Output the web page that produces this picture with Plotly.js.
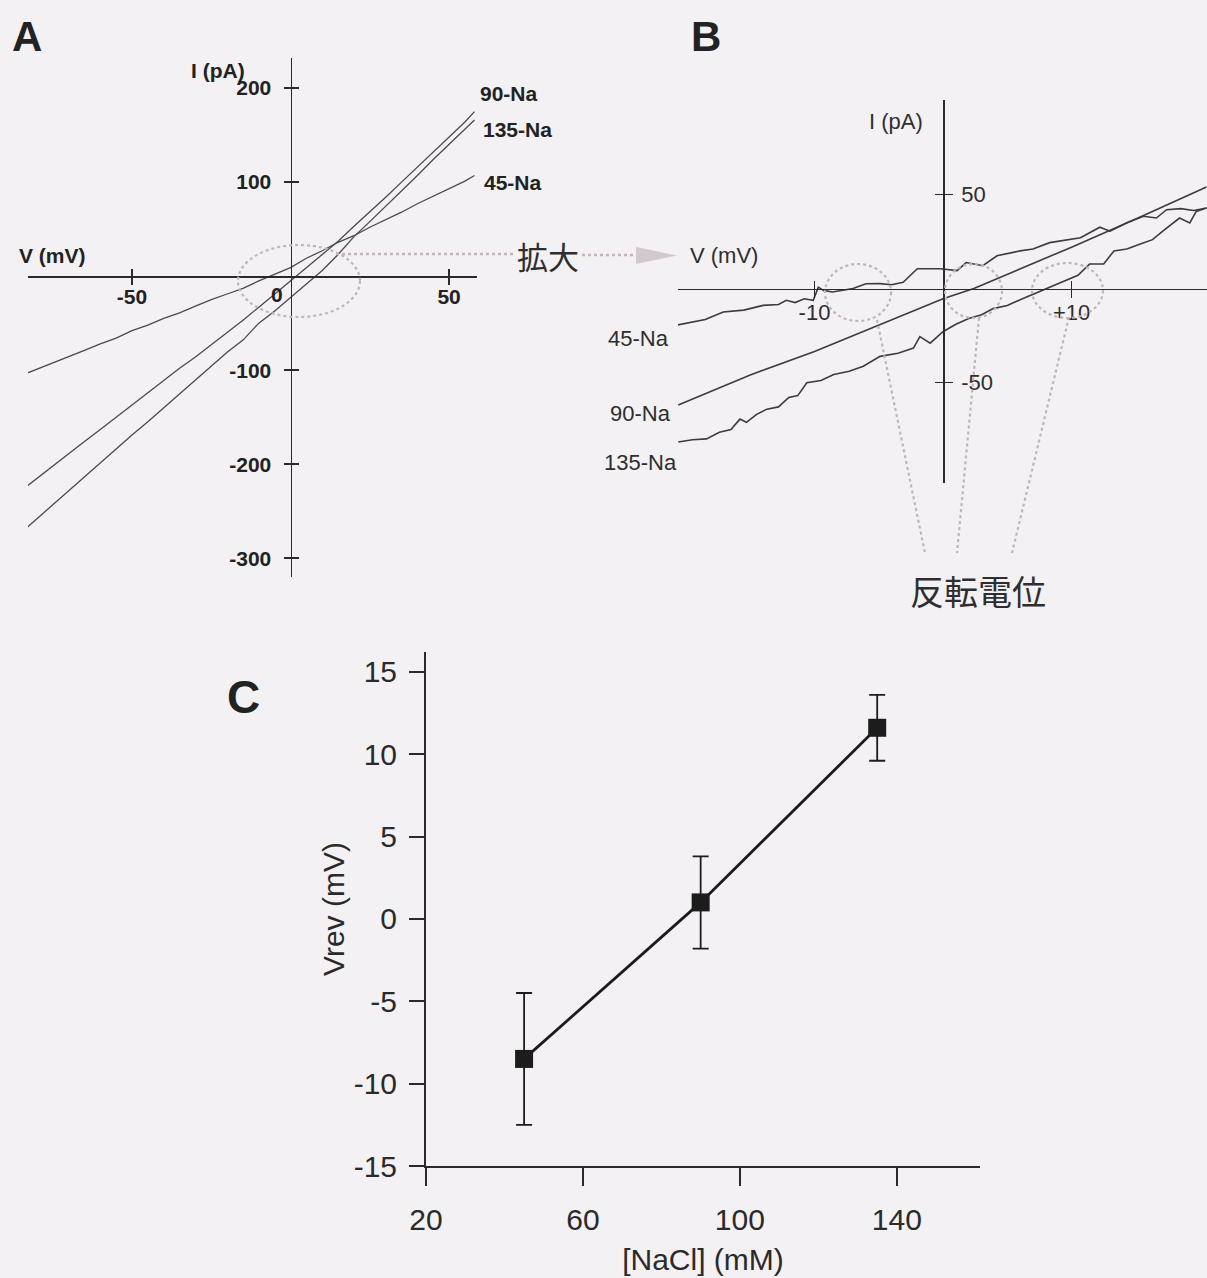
<!DOCTYPE html>
<html><head><meta charset="utf-8">
<script src="https://cdn.plot.ly/plotly-3.0.1.min.js"></script>
<style>html,body{margin:0;padding:0;background:#f3f1f4}</style>
</head><body><div id="chart" style="width:1207px;height:1278px"></div>
<script>
// ---------- Panel A : whole-cell I-V ramps (V in mV, I in pA) ----------
const vA = [-83,-80,-75,-70,-65,-60,-55,-50,-45,-40,-35,-30,-25,-20,-15,-10,-5,0,5,10,15,20,25,30,35,40,45,50,55,58];
const iA45  = [-103,-99,-93,-86,-79,-72,-66,-58,-52,-45,-39,-32,-25,-19,-13,-5,2,9,19,27,36,43,52,60,68,77,85,93,101,107];
const iA90  = [-223,-215,-202,-189,-176,-163,-150,-137,-124,-111,-98,-86,-73,-61,-47,-33,-19,-5,8,22,37,53,68,84,100,116,132,148,164,175];
const iA135 = [-267,-258,-244,-229,-214,-199,-184,-169,-155,-140,-125,-110,-95,-81,-68,-50,-37,-23,-9,6,23,42,58,74,91,107,124,140,157,166];
const aXTicks = [-50, 50];
const aXText  = ['-50', '50'];
const aYTicks = [200, 100, -100, -200, -300];
const aYText  = ['200', '100', '-100', '-200', '-300'];

// ---------- Panel B : expanded view around the reversal potentials ----------
const vB45  = [-20.7,-19.5,-18.5,-17.1,-15.5,-14,-12.8,-12.2,-11.5,-10.8,-10.1,-9.7,-9.3,-8.6,-7.8,-7,-6,-4.9,-4,-3.1,-2,-0.2,1.1,1.8,3.1,4.2,6,7,8.3,9.5,10.7,12.2,13,14.3,15.6,16.6,17.4,18.5,19.5,20.5];
const iB45  = [-19.5,-18,-16.5,-12.5,-11.5,-9,-8.5,-6.3,-7.5,-5.5,-6.3,0.7,-1,-1.9,-0.8,0,2.5,2.6,2,3.3,10.5,10.5,9.5,13.8,12.1,17.4,20,21,24.4,25.5,27,32.6,30.5,35,38.4,37.5,41.9,42.5,41.5,42.8];
const vB90  = [-20.6,-15,-10,-5,0,2.4,5,10,15,20.5];
const iB90  = [-62,-46,-33.5,-19.5,-5.5,0,7.5,22,37,54];
const vB135 = [-20.6,-19.5,-18.4,-17.4,-16.5,-15.8,-15.3,-14.5,-13.7,-12.8,-12,-11.3,-10.6,-9.5,-8.5,-7.3,-6.2,-4.9,-3.5,-2.3,-1.8,-1,0,1,2,3,3.9,5,6,6.8,8.1,9.6,10.5,11.4,12.5,13.3,14.3,15.3,16.3,17.1,18.4,19.2,19.7,20.5];
const iB135 = [-81.7,-80.5,-80,-76.5,-75,-69.5,-71.2,-67,-64.2,-63,-58,-57,-50.2,-49,-45.8,-44,-41.4,-36.1,-34.5,-31.7,-25.6,-29.1,-23,-19,-16,-14,-10.7,-9,-6,-3.7,0,4.2,7,13,13,20,21,23.5,26,30.5,37.5,34.9,41,42.8];
const bXTicks = [-10, 10];
const bXText  = ['-10', '+10'];
const bYTicks = [50, -50];
const bYText  = ['50', '-50'];

// ---------- Panel C : reversal potential vs [NaCl] ----------
const nacl    = [45, 90, 135];
const vrev    = [-8.5, 1.0, 11.6];
const vrevErr = [4.0, 2.8, 2.0];
const cXTicks = [20, 60, 100, 140];
const cYTicks = [-15, -10, -5, 0, 5, 10, 15];
const cYText  = ['-15', '-10', '-5', '0', '5', '10', '15'];

const W = 1207, H = 1278;
const fx = p => p / W;
const fy = p => 1 - p / H;

const FONT = 'Liberation Sans, Arial, Helvetica, sans-serif';
const JP = 'Noto Sans CJK JP, sans-serif';
const AXC = '#2a2a2a';
const DOT = '#c3b3bb';

// axis geometry (pixel anchors)
const aDomX = [fx(28), fx(477)], aRangeX = [-82.8, 58.8];
const aDomY = [fy(577), fy(58)], aRangeY = [-320, 232];
const aXpos = fy(276), aYpos = fx(290.5);
const bDomX = [fx(678), 1], bRangeX = [-20.62, 20.54];
const bDomY = [fy(483), fy(100)], bRangeY = [-103.5, 100.3];
const bXpos = fy(288.5), bYpos = fx(943);

const lineA = {color: '#4a4a4a', width: 1.3};
const lineB = {color: '#3c3c3c', width: 1.6};

const traces = [
  {x: vA, y: iA45, xaxis: 'x', yaxis: 'y', mode: 'lines', line: lineA, name: '45-Na'},
  {x: vA, y: iA90, xaxis: 'x', yaxis: 'y', mode: 'lines', line: lineA, name: '90-Na'},
  {x: vA, y: iA135, xaxis: 'x', yaxis: 'y', mode: 'lines', line: lineA, name: '135-Na'},
  {x: vB45, y: iB45, xaxis: 'x2', yaxis: 'y2', mode: 'lines', line: lineB, name: '45-Na'},
  {x: vB90, y: iB90, xaxis: 'x2', yaxis: 'y2', mode: 'lines', line: lineB, name: '90-Na'},
  {x: vB135, y: iB135, xaxis: 'x2', yaxis: 'y2', mode: 'lines', line: lineB, name: '135-Na'},
  {x: nacl, y: vrev, xaxis: 'x3', yaxis: 'y3', mode: 'lines+markers',
   line: {color: '#1c1c1c', width: 2.8},
   marker: {symbol: 'square', size: 18, color: '#1c1c1c'},
   error_y: {type: 'data', array: vrevErr, visible: true, color: '#1c1c1c', thickness: 1.8, width: 8}},
  // empty helpers so the tick-crossing overlay axes are drawn
  {x: [null], y: [null], xaxis: 'x4', yaxis: 'y', mode: 'lines', hoverinfo: 'skip'},
  {x: [null], y: [null], xaxis: 'x', yaxis: 'y4', mode: 'lines', hoverinfo: 'skip'},
  {x: [null], y: [null], xaxis: 'x5', yaxis: 'y2', mode: 'lines', hoverinfo: 'skip'},
  {x: [null], y: [null], xaxis: 'x2', yaxis: 'y5', mode: 'lines', hoverinfo: 'skip'}
];

const boldA = {family: FONT, size: 21, color: '#222', weight: 'bold'};
const regB = {family: FONT, size: 22, color: '#2e2e2e'};
const base = {showgrid: false, zeroline: false, fixedrange: true, tickcolor: AXC, tickwidth: 1.5};

function note(text, x, y, font, xanchor) {
  return {text: text, x: fx(x), y: fy(y), xref: 'paper', yref: 'paper', showarrow: false,
          xanchor: xanchor || 'center', yanchor: 'middle', font: font};
}

const layout = {
  width: W, height: H, margin: {l: 0, r: 0, t: 0, b: 0},
  paper_bgcolor: '#f3f1f4', plot_bgcolor: 'rgba(0,0,0,0)',
  showlegend: false,
  font: {family: FONT, color: '#2a2a2a'},
  // ----- A -----
  xaxis: Object.assign({}, base, {domain: aDomX, range: aRangeX, anchor: 'free', position: aXpos,
    showline: true, linecolor: AXC, linewidth: 1.5, ticks: 'outside', ticklen: 7, ticklabelstandoff: -6,
    tickvals: aXTicks, ticktext: aXText, tickfont: boldA}),
  yaxis: Object.assign({}, base, {domain: aDomY, range: aRangeY, anchor: 'free', position: aYpos,
    showline: true, linecolor: AXC, linewidth: 1.5, ticks: 'outside', ticklen: 7, ticklabelstandoff: 8,
    tickvals: aYTicks, ticktext: aYText, tickfont: boldA}),
  xaxis4: Object.assign({}, base, {overlaying: 'x', range: aRangeX, anchor: 'free', position: aXpos,
    showline: false, ticks: 'inside', ticklen: 7, tickvals: aXTicks, showticklabels: false}),
  yaxis4: Object.assign({}, base, {overlaying: 'y', range: aRangeY, anchor: 'free', position: aYpos,
    showline: false, ticks: 'inside', ticklen: 7, tickvals: aYTicks, showticklabels: false}),
  // ----- B -----
  xaxis2: Object.assign({}, base, {domain: bDomX, range: bRangeX, anchor: 'free', position: bXpos,
    showline: true, linecolor: AXC, linewidth: 1.8, ticks: 'outside', ticklen: 8, ticklabelstandoff: -5,
    tickvals: bXTicks, ticktext: bXText, tickfont: regB}),
  yaxis2: Object.assign({}, base, {domain: bDomY, range: bRangeY, anchor: 'free', position: bYpos, side: 'right',
    showline: true, linecolor: AXC, linewidth: 1.8, ticks: 'outside', ticklen: 8, ticklabelstandoff: 4,
    tickvals: bYTicks, ticktext: bYText, tickfont: regB}),
  xaxis5: Object.assign({}, base, {overlaying: 'x2', range: bRangeX, anchor: 'free', position: bXpos,
    showline: false, ticks: 'inside', ticklen: 8, tickvals: bXTicks, showticklabels: false}),
  yaxis5: Object.assign({}, base, {overlaying: 'y2', range: bRangeY, anchor: 'free', position: bYpos, side: 'right',
    showline: false, ticks: 'inside', ticklen: 8, tickvals: bYTicks, showticklabels: false}),
  // ----- C -----
  xaxis3: Object.assign({}, base, {domain: [fx(426), fx(980)], range: [20, 161.2], anchor: 'y3',
    showline: true, linecolor: AXC, linewidth: 2, ticks: 'outside', ticklen: 18, tickwidth: 2,
    ticklabelstandoff: 8, tickvals: cXTicks, tickfont: {family: FONT, size: 30, color: '#2a2a2a'},
    title: {text: '[NaCl] (mM)', font: {family: FONT, size: 30, color: '#2a2a2a'}, standoff: 14}}),
  yaxis3: Object.assign({}, base, {domain: [fy(1166), fy(652)], range: [-15, 16.2], anchor: 'x3',
    showline: true, linecolor: AXC, linewidth: 2, ticks: 'outside', ticklen: 15, tickwidth: 2,
    ticklabelstandoff: 6, tickvals: cYTicks, ticktext: cYText, tickfont: {family: FONT, size: 30, color: '#2a2a2a'},
    title: {text: 'Vrev (mV)', font: {family: FONT, size: 30, color: '#2a2a2a'}, standoff: 0}}),
  shapes: [
    // A zoom ellipse and guide
    {type: 'circle', xref: 'paper', yref: 'paper', x0: fx(238), x1: fx(360), y0: fy(317), y1: fy(245),
     line: {color: DOT, width: 2.2, dash: 'dot'}},
    {type: 'line', xref: 'paper', yref: 'paper', x0: fx(336), x1: fx(516), y0: fy(254), y1: fy(254),
     line: {color: DOT, width: 2.4, dash: 'dot'}},
    {type: 'line', xref: 'paper', yref: 'paper', x0: fx(582), x1: fx(642), y0: fy(255), y1: fy(255),
     line: {color: DOT, width: 2.4, dash: 'dot'}},
    {type: 'path', xref: 'paper', yref: 'paper',
     path: `M ${fx(636)} ${fy(247)} L ${fx(677)} ${fy(255.5)} L ${fx(636)} ${fy(264)} Z`,
     fillcolor: '#d3c8ce', line: {width: 0}},
    // B reversal-potential ellipses
    {type: 'circle', xref: 'paper', yref: 'paper', x0: fx(825), x1: fx(891), y0: fy(321), y1: fy(264),
     line: {color: DOT, width: 2.2, dash: 'dot'}},
    {type: 'circle', xref: 'paper', yref: 'paper', x0: fx(945), x1: fx(1002), y0: fy(318), y1: fy(264),
     line: {color: DOT, width: 2.2, dash: 'dot'}},
    {type: 'circle', xref: 'paper', yref: 'paper', x0: fx(1032), x1: fx(1103), y0: fy(318), y1: fy(263),
     line: {color: DOT, width: 2.2, dash: 'dot'}},
    {type: 'line', xref: 'paper', yref: 'paper', x0: fx(877), x1: fx(925), y0: fy(320), y1: fy(553),
     line: {color: DOT, width: 2.2, dash: 'dot'}},
    {type: 'line', xref: 'paper', yref: 'paper', x0: fx(979), x1: fx(957), y0: fy(318), y1: fy(553),
     line: {color: DOT, width: 2.2, dash: 'dot'}},
    {type: 'line', xref: 'paper', yref: 'paper', x0: fx(1069), x1: fx(1012), y0: fy(317), y1: fy(553),
     line: {color: DOT, width: 2.2, dash: 'dot'}}
  ],
  annotations: [
    note('<b>A</b>', 27, 37, {family: FONT, size: 42, color: '#222'}),
    note('<b>B</b>', 706, 37, {family: FONT, size: 42, color: '#222'}),
    note('<b>C</b>', 243, 697, {family: FONT, size: 46, color: '#222'}),
    // A labels
    note('<b>I (pA)</b>', 247, 70, boldA, 'right'),
    note('<b>V (mV)</b>', 17, 255, boldA, 'left'),
    note('<b>0</b>', 277, 294, boldA),
    note('<b>90-Na</b>', 478, 94, boldA, 'left'),
    note('<b>135-Na</b>', 481, 129, boldA, 'left'),
    note('<b>45-Na</b>', 482, 182, boldA, 'left'),
    // B labels
    note('I (pA)', 925, 121, regB, 'right'),
    note('V (mV)', 688, 255, regB, 'left'),
    note('45-Na', 671, 338, regB, 'right'),
    note('90-Na', 673, 413, regB, 'right'),
    note('135-Na', 679, 462, regB, 'right'),
    // Japanese captions
    note('拡大', 548, 255, {family: JP, size: 31, color: '#2e2e2e'}),
    note('反転電位', 978, 590, {family: JP, size: 34, color: '#2e2e2e'})
  ]
};

Plotly.newPlot('chart', traces, layout, {staticPlot: true, displayModeBar: false});
</script>
</body></html>
